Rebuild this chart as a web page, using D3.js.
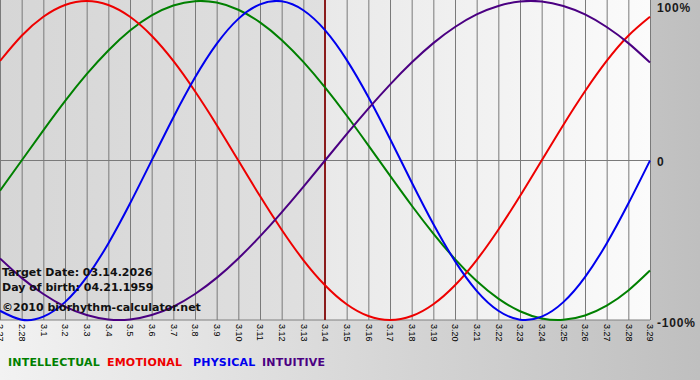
<!DOCTYPE html>
<html>
<head>
<meta charset="utf-8">
<script src="https://cdn.jsdelivr.net/npm/d3@7"></script>
<style>
  body { margin: 0; }
  svg { display: block; font-family: "DejaVu Sans", Verdana, sans-serif; }
</style>
</head>
<body>
<div id="chart"></div>
<script>
// day labels along the bottom
const days = ["2.27", "2.28", "3.1", "3.2", "3.3", "3.4", "3.5", "3.6", "3.7", "3.8", "3.9",
    "3.10", "3.11", "3.12", "3.13", "3.14", "3.15", "3.16", "3.17", "3.18", "3.19",
    "3.20", "3.21", "3.22", "3.23", "3.24", "3.25", "3.26", "3.27", "3.28", "3.29"];
const targetDay = "3.14";

// daily values, -1 .. 1
const physical = [-0.942, -0.998, -0.979, -0.888, -0.731, -0.520, -0.270, 0, 0.270, 0.520, 0.731,
    0.888, 0.979, 0.998, 0.942, 0.817, 0.631, 0.398, 0.136, -0.136, -0.398,
    -0.631, -0.817, -0.942, -0.998, -0.979, -0.888, -0.731, -0.520, -0.270, 0];
const emotional = [0.624, 0.782, 0.901, 0.975, 1, 0.975, 0.901, 0.782, 0.624, 0.434, 0.223,
    0, -0.223, -0.434, -0.624, -0.782, -0.901, -0.975, -1, -0.975, -0.901,
    -0.782, -0.624, -0.434, -0.223, 0, 0.223, 0.434, 0.624, 0.782, 0.901];
const intellectual = [-0.189, 0, 0.189, 0.372, 0.541, 0.690, 0.815, 0.910, 0.972, 0.999, 0.990,
    0.945, 0.866, 0.756, 0.618, 0.458, 0.282, 0.095, -0.095, -0.282, -0.458,
    -0.618, -0.756, -0.866, -0.945, -0.990, -0.999, -0.972, -0.910, -0.815, -0.690];
const intuitive = [-0.614, -0.736, -0.837, -0.916, -0.969, -0.997, -0.997, -0.969, -0.916, -0.837, -0.736,
    -0.614, -0.476, -0.325, -0.165, 0, 0.165, 0.325, 0.476, 0.614, 0.736,
    0.837, 0.916, 0.969, 0.997, 0.997, 0.969, 0.916, 0.837, 0.736, 0.614];

const seriesNames = ["INTELLECTUAL", "EMOTIONAL", "PHYSICAL", "INTUITIVE"];
const seriesValues = [intellectual, emotional, physical, intuitive];
const yTicks = [1, 0, -1];
const yTickLabels = ["100%", "0", "-100%"];
const infoLines = ["Target Date: 03.14.2026", "Day of birth: 04.21.1959", "\u00a92010 biorhythm-calculator.net"];

const W = 700, H = 380;
const plotW = 650, plotTop = 1, plotBottom = 320;

const svg = d3.select("#chart").append("svg")
    .attr("width", W)
    .attr("height", H);

const defs = svg.append("defs");
function grad(id, a, b) {
    const g = defs.append("linearGradient").attr("id", id)
        .attr("x1", "0%").attr("x2", "100%").attr("y1", "0%").attr("y2", "0%");
    g.append("stop").attr("offset", "0%").attr("stop-color", a);
    g.append("stop").attr("offset", "100%").attr("stop-color", b);
}
grad("pageBg", "#f2f2f2", "#bfbfbf");
grad("pastBg", "#d6d6d6", "#e0e0e0");
grad("futureBg", "#e9e9e9", "#fbfbfb");

svg.append("rect").attr("width", W).attr("height", H).attr("fill", "url(#pageBg)");

const x = d3.scalePoint().domain(days).range([0, plotW]);
const y = d3.scaleLinear().domain([-1, 1]).range([plotBottom, plotTop]);

// backgrounds either side of the target date
svg.append("rect")
    .attr("x", 0).attr("y", 0)
    .attr("width", x(targetDay)).attr("height", plotBottom)
    .attr("fill", "url(#pastBg)");
svg.append("rect")
    .attr("x", x(targetDay)).attr("y", 0)
    .attr("width", plotW - x(targetDay)).attr("height", plotBottom)
    .attr("fill", "url(#futureBg)");

// x axis with vertical grid lines
const xAxis = svg.append("g")
    .attr("transform", `translate(0,${plotBottom})`)
    .call(d3.axisBottom(x).tickSize(-plotBottom).tickPadding(0));
xAxis.select(".domain").attr("stroke", "#808080").attr("d", `M0,0H${plotW}`);
xAxis.selectAll(".tick line").attr("stroke", "#7a7a7a");
xAxis.selectAll(".tick text")
    .attr("transform", "rotate(90)")
    .attr("x", 4)
    .attr("y", 0)
    .attr("dy", "0.35em")
    .attr("text-anchor", "start")
    .attr("fill", "#000")
    .style("font-size", "9px");

// zero line
svg.append("line")
    .attr("x1", 0).attr("x2", plotW)
    .attr("y1", y(0)).attr("y2", y(0))
    .attr("stroke", "#7a7a7a");

// right labels
const yAxis = svg.append("g")
    .attr("transform", `translate(${plotW},0)`)
    .call(d3.axisRight(y).tickValues(yTicks).tickSize(0).tickPadding(7)
        .tickFormat((d, i) => yTickLabels[i]));
yAxis.select(".domain").remove();
yAxis.selectAll("text")
    .attr("fill", "#1a1a1a")
    .attr("dy", d => d === 1 ? "0.85em" : d === 0 ? "0.4em" : "0.55em")
    .style("font-size", "12px")
    .style("font-weight", "bold")
    .style("letter-spacing", "0.8px");

// target date line
svg.append("line")
    .attr("x1", x(targetDay)).attr("x2", x(targetDay))
    .attr("y1", 0).attr("y2", plotBottom)
    .attr("stroke", "#8b1c1c")
    .attr("stroke-width", 2);

// colors
const color = d3.scaleOrdinal()
    .domain(seriesNames)
    .range(["#008000", "#ee0000", "#0000ee", "#4b0082"]);

const line = d3.line()
    .x((d, i) => x(days[i]))
    .y(d => y(d))
    .curve(d3.curveNatural);

const plot = svg.append("g");
seriesNames.forEach((name, i) => {
    plot.append("path")
        .datum(seriesValues[i])
        .attr("fill", "none")
        .attr("stroke", color(name))
        .attr("stroke-width", 2)
        .attr("d", line);
});

// info text
svg.selectAll(".info")
    .data(infoLines)
    .enter()
    .append("text")
    .attr("class", "info")
    .attr("x", 2)
    .attr("y", (d, i) => [276, 291, 311][i])
    .attr("fill", "#111")
    .style("font-size", "11px")
    .style("font-weight", "bold")
    .text(d => d);

// legend
const legendX = [8, 107, 193, 262];
svg.selectAll(".legend")
    .data(seriesNames)
    .enter()
    .append("text")
    .attr("class", "legend")
    .attr("x", (d, i) => legendX[i])
    .attr("y", 366)
    .attr("fill", d => color(d))
    .style("font-size", "11px")
    .style("font-weight", "bold")
    .style("letter-spacing", "0.2px")
    .text(d => d);
</script>
</body>
</html>
